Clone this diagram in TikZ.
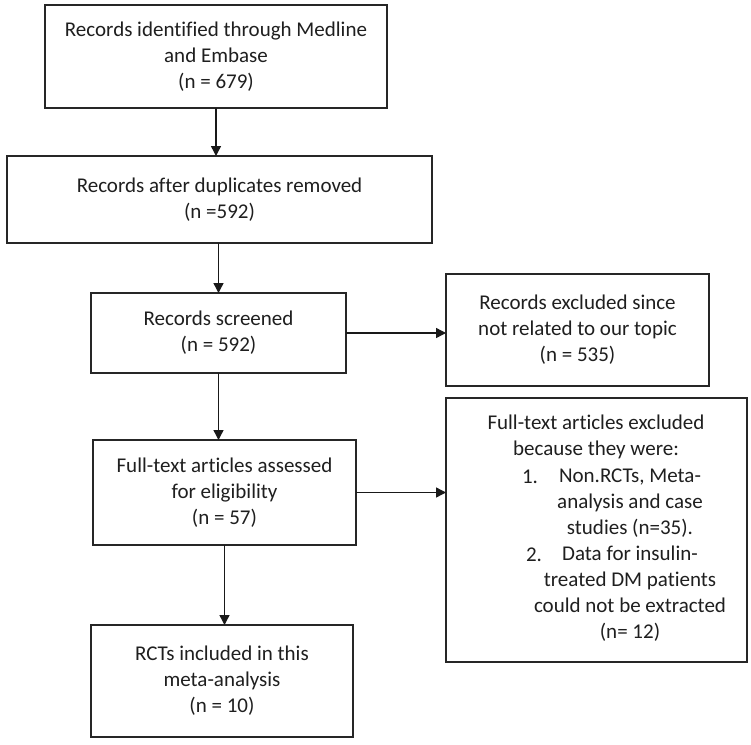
\documentclass[tikz,border=0pt]{standalone}
\usepackage{fontspec}
\setmainfont{Carlito}[Ligatures=NoCommon]
\usetikzlibrary{arrows.meta,calc}
\begin{document}
\begin{tikzpicture}[x=1pt,y=-1pt,
  box/.style={draw=black!85, line width=1.5pt, rectangle, align=center, inner sep=0pt, outer sep=0pt,
    font=\fontsize{21}{26}\selectfont, text=black!88},
  txt/.style={align=center, inner sep=0pt, outer sep=0pt, font=\fontsize{21}{26}\selectfont, text=black!88},
  arr/.style={draw=black!90, line width=1.4pt, -{Triangle[length=10pt,width=10pt]}}]
\useasboundingbox (0,0) rectangle (751,744);
\fill[white] (0,0) rectangle (751,744);
\node[box, minimum width=342pt, minimum height=103pt] (b1) at (216,56.5)
  {Records identified through Medline\\and Embase\\(n = 679)};
\node[box, minimum width=425pt, minimum height=87pt] (b2) at (219.5,199.5)
  {Records after duplicates removed\\(n =592)};
\node[box, minimum width=255pt, minimum height=80pt] (b3) at (218.5,333)
  {Records screened\\(n = 592)};
\node[box, minimum width=263pt, minimum height=112pt] (b4) at (577.5,330)
  {Records excluded since\\not related to our topic\\(n = 535)};
\node[box, minimum width=263pt, minimum height=105pt] (b5) at (224.5,492.5)
  {Full-text articles assessed\\for eligibility\\(n = 57)};
\node[box, minimum width=301pt, minimum height=264pt] (b6) at (596.5,530) {};
\node[box, minimum width=262pt, minimum height=112pt] (b7) at (222,681)
  {RCTs included in this\\meta-analysis\\(n = 10)};
% contents of the exclusion box
\node[txt] (h6) at (596,437) {Full-text articles excluded\\because they were:};
\node[txt] (n1) at (530,477) {1.};
\node[txt] (l1) at (630,503.5) {Non.RCTs, Meta-\\analysis and case\\studies (n=35).};
\node[txt] (n2) at (534,555) {2.};
\node[txt] (l2) at (630,593.5) {Data for insulin-\\treated DM patients\\could not be extracted\\(n= 12)};
% connectors
\draw[arr] (b1.south) -- (b1.south |- b2.north);
\draw[arr] (b2.south -| b3.north) -- (b3.north);
\draw[arr] (b3.east) -- (b3.east -| b4.west);
\draw[arr] (b3.south) -- (b3.south |- b5.north);
\draw[arr] (b5.east) -- (b5.east -| b6.west);
\draw[arr] (b5.south) -- (b5.south |- b7.north);
\end{tikzpicture}
\end{document}
